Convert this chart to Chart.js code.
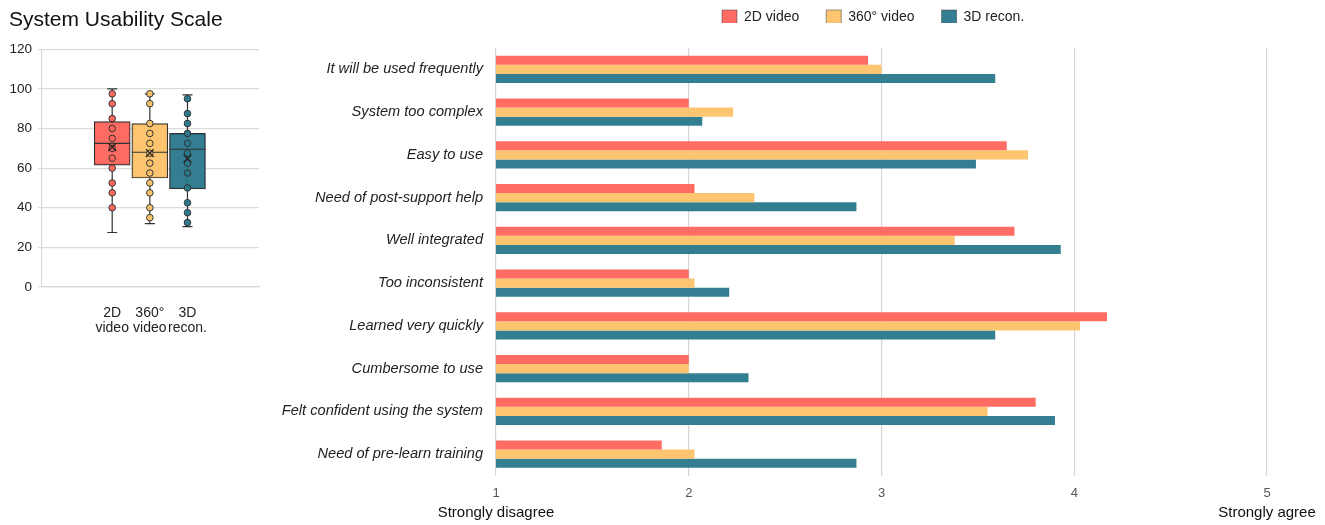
<!DOCTYPE html>
<html><head><meta charset="utf-8">
<script src="https://cdn.jsdelivr.net/npm/chart.js@4.4.1/dist/chart.umd.min.js"></script>
<style>
html,body{margin:0;padding:0;background:#fff;width:1325px;height:525px;overflow:hidden}
#l{position:absolute;left:0;top:0;width:270px;height:345px}
#r{position:absolute;left:270px;top:0;width:1055px;height:525px}
</style></head><body>
<div id="l"><canvas id="c1"></canvas></div>
<div id="r"><canvas id="c2"></canvas></div>
<script>
// ---- Left: System Usability Scale box plots ----
const susTitle = 'System Usability Scale';
const groups = ['2D video', '360° video', '3D recon.'];
const groupTicks = [['2D', 'video'], ['360°', 'video'], ['3D', 'recon.']];
const whiskerMin = [27.5, 32, 30.5];
const q1 = [61.5, 55, 49.5];
const median = [72.5, 68, 69.5];
const q3 = [83.5, 82.5, 77.5];
const whiskerMax = [100, 97.5, 97];
const means = [70.6, 67.6, 64.8];
const points2D = [97.5, 92.5, 85, 80, 75, 70, 65, 60, 52.5, 47.5, 40];
const points360 = [97.5, 92.5, 82.5, 77.5, 72.5, 67.5, 62.5, 57.5, 52.5, 47.5, 40, 35];
const points3D = [95, 87.5, 82.5, 77.5, 72.5, 67.5, 62.5, 57.5, 50, 42.5, 37.5, 32.5];
const susTicks = [0, 20, 40, 60, 80, 100, 120];

// ---- Right: questionnaire items ----
const questions = [
  'It will be used frequently', 'System too complex', 'Easy to use',
  'Need of post-support help', 'Well integrated', 'Too inconsistent',
  'Learned very quickly', 'Cumbersome to use', 'Felt confident using the system',
  'Need of pre-learn training'
];
const series2D = [2.93, 2.0, 3.65, 2.03, 3.69, 2.0, 4.17, 2.0, 3.80, 1.86];
const series360 = [3.0, 2.23, 3.76, 2.34, 3.38, 2.03, 4.03, 2.0, 3.55, 2.03];
const series3D = [3.59, 2.07, 3.49, 2.87, 3.93, 2.21, 3.59, 2.31, 3.90, 2.87];
const seriesNames = ['2D video', '360° video', '3D recon.'];
const likertTicks = [1, 2, 3, 4, 5];
const anchorLabels = ['Strongly disagree', 'Strongly agree'];

const RED = 'rgba(255,100,92,0.95)';
const YEL = 'rgba(253,194,104,0.95)';
const TEAL = 'rgba(40,120,139,0.95)';
const COLS = [RED, YEL, TEAL];

Chart.defaults.font.family = "'Liberation Sans', Arial, Helvetica, sans-serif";
Chart.defaults.color = '#222';

const boxParts = {
  id: 'boxParts',
  beforeDatasetsDraw(chart) {
    const {ctx, scales: {x, y}} = chart;
    ctx.save();
    ctx.strokeStyle = '#333';
    ctx.lineWidth = 1.2;
    groups.forEach((g, i) => {
      const px = x.getPixelForValue(i + 1);
      const a = y.getPixelForValue(whiskerMin[i]);
      const b = y.getPixelForValue(whiskerMax[i]);
      ctx.beginPath();
      ctx.moveTo(px, a); ctx.lineTo(px, b);
      ctx.moveTo(px - 5, a); ctx.lineTo(px + 5, a);
      ctx.moveTo(px - 5, b); ctx.lineTo(px + 5, b);
      ctx.stroke();
    });
    ctx.restore();
  },
  afterDatasetDraw(chart, args) {
    if (args.index !== 0) return;
    const {ctx, scales: {y}} = chart;
    const meta = chart.getDatasetMeta(0);
    ctx.save();
    ctx.strokeStyle = '#333';
    ctx.lineWidth = 1.2;
    meta.data.forEach((bar, i) => {
      const py = y.getPixelForValue(median[i]);
      ctx.beginPath();
      ctx.moveTo(bar.x - bar.width / 2, py);
      ctx.lineTo(bar.x + bar.width / 2, py);
      ctx.stroke();
    });
    ctx.restore();
  }
};

const pointSets = [points2D, points360, points3D];
new Chart(document.getElementById('c1'), {
  type: 'bar',
  data: {
    datasets: [
      {
        type: 'bar', order: 3,
        data: groups.map((g, i) => ({x: i + 1, y: [q1[i], q3[i]]})),
        backgroundColor: COLS, borderColor: '#333', borderWidth: 1.2,
        borderSkipped: false, barThickness: 36
      },
      ...pointSets.map((ps, gi) => ({
        type: 'scatter', order: 1,
        data: ps.map(v => ({x: gi + 1, y: v})),
        pointRadius: 3.3, pointBackgroundColor: COLS[gi], pointBorderColor: '#333', pointBorderWidth: 1
      })),
      {
        type: 'scatter', order: 0,
        data: groups.map((g, i) => ({x: i + 1, y: means[i]})),
        pointStyle: 'crossRot', pointRadius: 5.5, pointBorderColor: '#222', pointBorderWidth: 1.3
      }
    ]
  },
  options: {
    animation: false, responsive: true, maintainAspectRatio: false,
    layout: {padding: {left: 9, right: 11, top: 0, bottom: 9}},
    scales: {
      x: {
        type: 'linear', min: -0.865, max: 4.9, offset: false,
        afterBuildTicks(a) { a.ticks = groups.map((g, i) => ({value: i + 1})); },
        afterFit(a) { a.height = 49; },
        ticks: {autoSkip: false, maxRotation: 0, padding: 18, color: '#222',
          font: {size: 14, lineHeight: 1.12},
          callback: (v, idx) => groupTicks[idx]},
        grid: {display: false, drawTicks: false, offset: false},
        border: {display: true, color: '#d8d8d8', width: 1.2}
      },
      y: {
        min: 0, max: 120,
        afterBuildTicks(a) { a.ticks = susTicks.map(v => ({value: v})); },
        afterFit(a) { a.width = 33; },
        ticks: {padding: 6, color: '#222', font: {size: 13.5}},
        grid: {color: '#dcdcdc', lineWidth: 1.2, tickLength: 4},
        border: {display: true, color: '#d8d8d8', width: 1.2}
      }
    },
    plugins: {
      legend: {display: false}, tooltip: {enabled: false},
      title: {display: true, text: susTitle, align: 'start', color: '#111',
        font: {size: 21, weight: 'normal'}, padding: {top: 8, bottom: 16}}
    }
  },
  plugins: [boxParts]
});

const LEGEND_X = 452;
const legendShift = {
  id: 'legendShift',
  afterLayout(chart) {
    const L = chart.legend;
    if (!L || !L.lineWidths) return;
    const pad = L.options.labels.padding;
    const cur = (L.left + pad + L.right - L.lineWidths[0]) / 2;
    const dx = LEGEND_X - cur;
    L.left += dx; L.right += dx;
    L.top -= pad - 2; L.bottom -= pad - 2;
  }
};

const seriesData = [series2D, series360, series3D];
new Chart(document.getElementById('c2'), {
  type: 'bar',
  data: {
    labels: questions,
    datasets: seriesData.map((d, i) => ({
      label: seriesNames[i], data: d, backgroundColor: COLS[i], borderWidth: 0
    }))
  },
  options: {
    indexAxis: 'y', animation: false, responsive: true, maintainAspectRatio: false,
    layout: {padding: {left: 11, right: 58, top: 8, bottom: 3}},
    datasets: {bar: {categoryPercentage: 0.633, barPercentage: 1}},
    scales: {
      x: {
        type: 'linear', position: 'bottom', min: 1, max: 5, weight: 1,
        afterBuildTicks(a) { a.ticks = likertTicks.map(v => ({value: v})); },
        afterFit(a) { a.height = 26.5; },
        ticks: {padding: 10, color: '#555', font: {size: 13}},
        grid: {color: 'rgba(0,0,0,0.16)', lineWidth: 1.2, drawTicks: false},
        border: {display: false}
      },
      x2: {
        type: 'linear', position: 'bottom', min: 1, max: 5, weight: 2,
        afterBuildTicks(a) { a.ticks = [{value: 1}, {value: 5}]; },
        afterFit(a) { a.height = 20; },
        ticks: {autoSkip: false, maxRotation: 0, padding: 2, color: '#111', font: {size: 15},
          callback: (v) => v === 1 ? anchorLabels[0] : anchorLabels[1]},
        grid: {display: false, drawTicks: false},
        border: {display: false}
      },
      y: {
        afterFit(a) { a.width = 215; },
        grid: {display: false, drawTicks: false},
        border: {display: false},
        ticks: {padding: 13, color: '#222', font: {size: 14.6, style: 'italic'}}
      }
    },
    plugins: {
      tooltip: {enabled: false},
      legend: {
        position: 'top', maxHeight: 40,
        labels: {
          boxWidth: 15, boxHeight: 15, padding: 27, color: '#222', font: {size: 14},
          generateLabels(chart) {
            return Chart.defaults.plugins.legend.labels.generateLabels(chart)
              .map(l => Object.assign(l, {lineWidth: 1, strokeStyle: 'rgba(70,70,70,0.55)'}));
          }
        }
      }
    }
  },
  plugins: [legendShift]
});
</script>
</body></html>
